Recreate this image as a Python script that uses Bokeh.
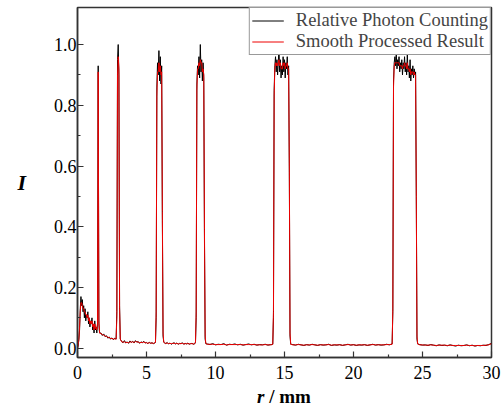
import numpy as np
from bokeh.plotting import figure
from bokeh.layouts import column
from bokeh.models import FixedTicker, Range1d, PrintfTickFormatter, Div
from bokeh.embed import file_html
from bokeh.resources import INLINE

# ---- data ----
r_mm = [
    # initial decay
    0.00, 0.05, 0.10, 0.15, 0.20, 0.25, 0.30, 0.35, 0.40, 0.45, 0.50, 0.55, 0.60, 0.65, 0.70,
    0.75, 0.80, 0.85, 0.90, 0.95, 1.00, 1.05, 1.10, 1.15, 1.20, 1.25, 1.30, 1.35, 1.40,
    # peak 1.5
    1.45, 1.50, 1.55, 1.60,
    1.7, 1.8, 1.9, 2.0, 2.1, 2.2, 2.3, 2.4, 2.5, 2.6, 2.7, 2.8,
    # peak 2.9
    2.85, 2.90, 2.95, 3.00, 3.05, 3.10,
    3.2, 3.3, 3.4, 3.5, 3.6, 3.7, 3.8, 3.9, 4.0, 4.1, 4.2, 4.3, 4.4, 4.5, 4.6, 4.7, 4.8, 4.9,
    5.0, 5.1, 5.2, 5.3, 5.4, 5.5, 5.6,
    # peak 6
    5.65, 5.70, 5.75, 5.80, 5.85, 5.90, 5.95, 6.00, 6.05, 6.10, 6.15, 6.20, 6.25,
    6.3, 6.4, 6.5, 6.6, 6.7, 6.8, 6.9, 7.0, 7.1, 7.2, 7.3, 7.4, 7.5, 7.6, 7.7, 7.8, 7.9, 8.0,
    8.1, 8.2, 8.3, 8.4, 8.5,
    # peak 9
    8.55, 8.60, 8.65, 8.70, 8.75, 8.80, 8.85, 8.90, 8.95, 9.00, 9.05, 9.10, 9.15, 9.20, 9.25, 9.30,
    9.4, 9.6, 9.8, 10.0, 10.2, 10.4, 10.6, 10.8, 11.0, 11.2, 11.4, 11.6, 11.8, 12.0, 12.2, 12.4,
    12.6, 12.8, 13.0, 13.2, 13.4, 13.6, 13.8, 14.0, 14.1,
    # peak 15
    14.15, 14.20, 14.25, 14.30, 14.35, 14.40, 14.45, 14.50, 14.55, 14.60, 14.65, 14.70, 14.75,
    14.80, 14.85, 14.90, 14.95, 15.00, 15.05, 15.10, 15.15, 15.20, 15.25, 15.30, 15.35, 15.40, 15.45,
    15.6, 15.8, 16.0, 16.2, 16.4, 16.6, 16.8, 17.0, 17.2, 17.4, 17.6, 17.8, 18.0, 18.2, 18.4, 18.6,
    18.8, 19.0, 19.2, 19.4, 19.6, 19.8, 20.0, 20.2, 20.4, 20.6, 20.8, 21.0, 21.2, 21.4, 21.6, 21.8,
    22.0, 22.2, 22.4, 22.6, 22.8,
    # peak 23.7
    22.85, 22.90, 22.95, 23.00, 23.05, 23.10, 23.15, 23.20, 23.25, 23.30, 23.35, 23.40, 23.45,
    23.50, 23.55, 23.60, 23.65, 23.70, 23.75, 23.80, 23.85, 23.90, 23.95, 24.00, 24.05, 24.10,
    24.15, 24.20, 24.25, 24.30, 24.35, 24.40, 24.45, 24.50, 24.55, 24.60, 24.65,
    24.8, 25.0, 25.2, 25.4, 25.6, 25.8, 26.0, 26.2, 26.4, 26.6, 26.8, 27.0, 27.2, 27.4, 27.6, 27.8,
    28.0, 28.2, 28.4, 28.6, 28.8, 29.0, 29.2, 29.4, 29.6, 29.8, 30.0,
]

counting = [
    0.00, 0.01, 0.03, 0.06, 0.13, 0.17, 0.14, 0.16, 0.12, 0.14, 0.10, 0.13, 0.09, 0.11, 0.10,
    0.12, 0.08, 0.10, 0.07, 0.09, 0.08, 0.10, 0.06, 0.08, 0.05, 0.09, 0.06, 0.07, 0.05,
    0.08, 0.93, 0.08, 0.05,
    0.050, 0.042, 0.047, 0.038, 0.041, 0.033, 0.037, 0.030, 0.034, 0.028, 0.033, 0.030,
    0.12, 0.95, 1.00, 0.90, 0.14, 0.03,
    0.022, 0.018, 0.025, 0.017, 0.021, 0.016, 0.024, 0.019, 0.023, 0.017, 0.025, 0.020, 0.022,
    0.016, 0.021, 0.018, 0.023, 0.017, 0.019, 0.015, 0.020, 0.016, 0.018, 0.015, 0.017,
    0.02, 0.10, 0.86, 0.94, 0.90, 0.98, 0.88, 0.96, 0.87, 0.93, 0.42, 0.04, 0.02,
    0.018, 0.015, 0.019, 0.014, 0.017, 0.013, 0.016, 0.018, 0.014, 0.017, 0.013, 0.016, 0.015,
    0.018, 0.013, 0.016, 0.014, 0.017, 0.013, 0.015, 0.016, 0.013, 0.015,
    0.02, 0.10, 0.87, 0.93, 0.90, 0.96, 0.89, 1.00, 0.91, 0.95, 0.88, 0.94, 0.89, 0.36, 0.03, 0.015,
    0.014, 0.012, 0.015, 0.011, 0.013, 0.012, 0.015, 0.010, 0.013, 0.012, 0.014, 0.011, 0.013,
    0.010, 0.012, 0.014, 0.011, 0.013, 0.010, 0.012, 0.011, 0.013, 0.010, 0.012, 0.012,
    0.013, 0.10, 0.85, 0.93, 0.96, 0.91, 0.95, 0.90, 0.94, 0.99, 0.91, 0.95, 0.89, 0.93, 0.90,
    0.96, 0.91, 0.95, 0.89, 0.94, 0.92, 0.96, 0.90, 0.93, 0.58, 0.04, 0.013,
    0.012, 0.010, 0.013, 0.011, 0.009, 0.012, 0.010, 0.013, 0.011, 0.009, 0.012, 0.010, 0.011,
    0.013, 0.009, 0.011, 0.010, 0.012, 0.009, 0.011, 0.013, 0.010, 0.012, 0.009, 0.011, 0.010,
    0.012, 0.009, 0.011, 0.013, 0.010, 0.012, 0.010, 0.011, 0.013, 0.011, 0.014,
    0.12, 0.88, 0.94, 0.96, 0.93, 0.97, 0.92, 0.95, 0.93, 0.96, 0.91, 0.94, 0.92, 0.95, 0.90,
    0.94, 0.92, 0.96, 0.91, 0.94, 0.90, 0.97, 0.91, 0.93, 0.89, 0.95, 0.88, 0.92, 0.90, 0.93,
    0.89, 0.92, 0.90, 0.91, 0.50, 0.03, 0.014,
    0.012, 0.010, 0.011, 0.009, 0.012, 0.010, 0.008, 0.011, 0.009, 0.010, 0.008, 0.011, 0.009,
    0.007, 0.010, 0.008, 0.009, 0.011, 0.008, 0.010, 0.007, 0.009, 0.008, 0.010, 0.009, 0.012, 0.016,
]

smoothed = [
    0.00, 0.01, 0.03, 0.07, 0.12, 0.15, 0.15, 0.14, 0.13, 0.13, 0.12, 0.12, 0.11, 0.11, 0.10,
    0.11, 0.09, 0.10, 0.08, 0.09, 0.08, 0.09, 0.07, 0.08, 0.06, 0.08, 0.065, 0.07, 0.06,
    0.08, 0.91, 0.09, 0.05,
    0.048, 0.045, 0.043, 0.040, 0.039, 0.036, 0.035, 0.032, 0.032, 0.030, 0.031, 0.030,
    0.10, 0.90, 0.96, 0.92, 0.13, 0.03,
    0.021, 0.020, 0.021, 0.019, 0.019, 0.018, 0.021, 0.020, 0.021, 0.019, 0.022, 0.021, 0.020,
    0.018, 0.019, 0.019, 0.020, 0.018, 0.018, 0.016, 0.018, 0.017, 0.017, 0.016, 0.017,
    0.02, 0.12, 0.83, 0.91, 0.91, 0.94, 0.91, 0.93, 0.90, 0.91, 0.45, 0.05, 0.02,
    0.017, 0.016, 0.017, 0.015, 0.016, 0.015, 0.016, 0.016, 0.015, 0.016, 0.014, 0.015, 0.015,
    0.016, 0.014, 0.015, 0.015, 0.015, 0.014, 0.015, 0.015, 0.014, 0.015,
    0.02, 0.12, 0.85, 0.92, 0.92, 0.94, 0.93, 0.95, 0.94, 0.94, 0.91, 0.92, 0.90, 0.39, 0.04, 0.015,
    0.013, 0.013, 0.013, 0.012, 0.012, 0.012, 0.013, 0.011, 0.012, 0.012, 0.012, 0.012, 0.012,
    0.011, 0.012, 0.012, 0.012, 0.012, 0.011, 0.011, 0.011, 0.012, 0.011, 0.011, 0.012,
    0.013, 0.12, 0.83, 0.92, 0.94, 0.93, 0.94, 0.93, 0.94, 0.95, 0.93, 0.94, 0.92, 0.92, 0.92,
    0.94, 0.93, 0.94, 0.92, 0.93, 0.93, 0.94, 0.92, 0.92, 0.60, 0.05, 0.013,
    0.011, 0.011, 0.012, 0.011, 0.010, 0.011, 0.011, 0.012, 0.011, 0.010, 0.011, 0.011, 0.011,
    0.012, 0.010, 0.011, 0.011, 0.011, 0.010, 0.011, 0.012, 0.011, 0.011, 0.010, 0.011, 0.011,
    0.011, 0.010, 0.011, 0.012, 0.011, 0.011, 0.011, 0.011, 0.012, 0.012, 0.013,
    0.13, 0.86, 0.93, 0.94, 0.94, 0.94, 0.94, 0.94, 0.94, 0.94, 0.93, 0.93, 0.93, 0.93, 0.92,
    0.93, 0.93, 0.94, 0.93, 0.93, 0.92, 0.94, 0.92, 0.92, 0.91, 0.92, 0.90, 0.91, 0.91, 0.91,
    0.90, 0.91, 0.90, 0.90, 0.52, 0.04, 0.014,
    0.011, 0.011, 0.010, 0.010, 0.011, 0.010, 0.009, 0.010, 0.010, 0.010, 0.009, 0.010, 0.009,
    0.009, 0.009, 0.009, 0.009, 0.010, 0.009, 0.009, 0.008, 0.009, 0.009, 0.009, 0.010, 0.011, 0.015,
]

x_ticks = [0, 5, 10, 15, 20, 25, 30]
x_minor = [2.5, 7.5, 12.5, 17.5, 22.5, 27.5]
y_ticks = [0.0, 0.2, 0.4, 0.6, 0.8, 1.0]
y_minor = [0.1, 0.3, 0.5, 0.7, 0.9]

assert len(r_mm) == len(counting) == len(smoothed), (len(r_mm), len(counting), len(smoothed))

FONT = "Liberation Serif"
FRAME = "#333333"

p = figure(width=504, height=385, output_backend="svg", toolbar_location=None,
           x_range=Range1d(0, 30), y_range=Range1d(-0.0306, 1.122),
           min_border_left=77, min_border_right=13, min_border_top=7, min_border_bottom=28,
           background_fill_color="white", border_fill_color="white")
p.grid.visible = False
p.outline_line_color = FRAME
p.outline_line_width = 1.5
p.outline_line_alpha = 1.0

p.line(r_mm, counting, color="black", line_width=1, legend_label="Relative Photon Counting")
p.line(r_mm, smoothed, color="#ee0000", line_width=1, legend_label="Smooth Processed Result")

p.xaxis.ticker = FixedTicker(ticks=x_ticks, minor_ticks=x_minor)
p.yaxis.ticker = FixedTicker(ticks=y_ticks, minor_ticks=y_minor)
p.yaxis.formatter = PrintfTickFormatter(format="%.1f")

for ax in p.axis:
    ax.axis_line_color = FRAME
    ax.axis_line_width = 1.5
    ax.major_tick_line_color = FRAME
    ax.minor_tick_line_color = FRAME
    ax.major_tick_line_width = 1.2
    ax.minor_tick_line_width = 1.2
    ax.major_tick_in = 6
    ax.major_tick_out = 0
    ax.minor_tick_in = 3
    ax.minor_tick_out = 0
    ax.major_label_text_font = FONT
    ax.major_label_text_font_size = "18px"
    ax.major_label_text_color = "black"
p.yaxis.major_label_standoff = 1
p.xaxis.major_label_standoff = 8

# y axis title: upright bold-italic "I"
p.yaxis.axis_label = "I"
p.yaxis.axis_label_orientation = "horizontal"
p.yaxis.axis_label_text_font = FONT
p.yaxis.axis_label_text_font_size = "22px"
p.yaxis.axis_label_text_font_style = "bold italic"
p.yaxis.axis_label_text_color = "black"
p.yaxis.axis_label_standoff = 25

leg = p.legend[0]
leg.location = "top_right"
leg.margin = 0
leg.padding = 2
leg.spacing = 0
leg.glyph_width = 32
leg.glyph_height = 17
leg.label_height = 17
leg.label_standoff = 12
leg.label_text_font = FONT
leg.label_text_font_size = "18.5px"
leg.border_line_color = FRAME
leg.border_line_width = 1
leg.background_fill_alpha = 1.0

# x axis title with italic r
xlabel = Div(text="<i>r</i> / mm", width=504, height=23, margin=(0, 0, 0, 0),
             styles={"font-family": FONT, "font-size": "19px", "font-weight": "bold",
                     "line-height": "23px", "padding-left": "257px", "color": "black",
                     "white-space": "nowrap"})

layout = column(p, xlabel, spacing=0)
open("out.html", "w").write(file_html(layout, INLINE))
